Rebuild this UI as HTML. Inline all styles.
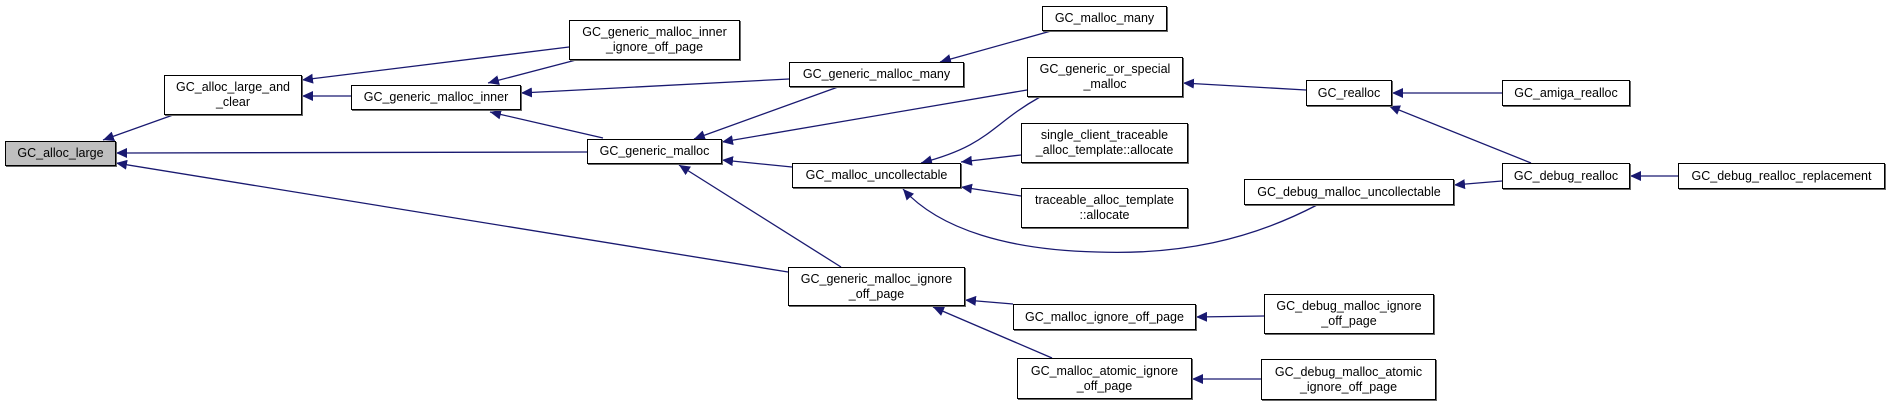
<!DOCTYPE html>
<html><head><meta charset="utf-8"><style>
body{margin:0;background:#fff;width:1891px;height:406px;overflow:hidden;position:relative;font-family:"Liberation Sans",Arial,sans-serif}
.n{position:absolute;box-sizing:border-box;border:1px solid #000;background:#fff;font-size:12.5px;line-height:15px;color:#000;display:flex;align-items:center;justify-content:center;text-align:center;white-space:nowrap;box-shadow:1px 1px 0 #666}
svg{position:absolute;left:0;top:0}
</style></head><body>
<svg width="1891" height="406" viewBox="0 0 1891 406">
<defs><marker id="a" markerUnits="userSpaceOnUse" markerWidth="12" markerHeight="10" refX="11" refY="5" orient="auto"><path d="M0,0 L11,5 L0,10 Z" fill="#191970"/></marker></defs>
<g stroke="#191970" stroke-width="1.3" fill="none" marker-end="url(#a)">
<line x1="173" y1="115" x2="103" y2="140"/>
<line x1="587" y1="152" x2="116" y2="153"/>
<line x1="788" y1="272" x2="116" y2="163"/>
<line x1="569" y1="47" x2="302" y2="80"/>
<line x1="351" y1="96" x2="302" y2="96"/>
<line x1="576" y1="60" x2="488" y2="83"/>
<line x1="789" y1="79" x2="521" y2="93"/>
<line x1="603" y1="138" x2="490" y2="112"/>
<line x1="838" y1="87" x2="694" y2="139"/>
<line x1="1027" y1="90" x2="722" y2="142"/>
<line x1="792" y1="167" x2="722" y2="160"/>
<line x1="841" y1="267" x2="679" y2="165"/>
<line x1="1051" y1="31" x2="940" y2="62"/>
<path d="M1040,97 C990,125 990,145 921,163"/>
<line x1="1021" y1="155" x2="961" y2="162"/>
<line x1="1021" y1="196" x2="961" y2="187"/>
<path d="M1317,205 C1250,240 1180,255 1097,252 C1010,250 940,230 903,189"/>
<line x1="1306" y1="90" x2="1183" y2="83"/>
<line x1="1502" y1="93" x2="1392" y2="93"/>
<line x1="1531" y1="163" x2="1389" y2="106"/>
<line x1="1502" y1="181" x2="1454" y2="185"/>
<line x1="1678" y1="176" x2="1630" y2="176"/>
<line x1="1013" y1="304" x2="965" y2="300"/>
<line x1="1052" y1="358" x2="933" y2="307"/>
<line x1="1264" y1="316" x2="1196" y2="317"/>
<line x1="1261" y1="379" x2="1192" y2="379"/>
</g></svg>
<div class="n" style="left:5px;top:141px;width:111px;height:25px;background:#bfbfbf">GC_alloc_large</div>
<div class="n" style="left:164px;top:75px;width:138px;height:40px">GC_alloc_large_and<br>_clear</div>
<div class="n" style="left:351px;top:85px;width:170px;height:25px">GC_generic_malloc_inner</div>
<div class="n" style="left:569px;top:20px;width:171px;height:40px">GC_generic_malloc_inner<br>_ignore_off_page</div>
<div class="n" style="left:587px;top:139px;width:135px;height:25px">GC_generic_malloc</div>
<div class="n" style="left:789px;top:62px;width:175px;height:25px">GC_generic_malloc_many</div>
<div class="n" style="left:792px;top:163px;width:169px;height:25px">GC_malloc_uncollectable</div>
<div class="n" style="left:788px;top:267px;width:177px;height:39px">GC_generic_malloc_ignore<br>_off_page</div>
<div class="n" style="left:1042px;top:6px;width:125px;height:25px">GC_malloc_many</div>
<div class="n" style="left:1027px;top:57px;width:156px;height:40px">GC_generic_or_special<br>_malloc</div>
<div class="n" style="left:1021px;top:123px;width:167px;height:40px">single_client_traceable<br>_alloc_template::allocate</div>
<div class="n" style="left:1021px;top:188px;width:167px;height:40px">traceable_alloc_template<br>::allocate</div>
<div class="n" style="left:1306px;top:80px;width:86px;height:26px">GC_realloc</div>
<div class="n" style="left:1502px;top:80px;width:128px;height:26px">GC_amiga_realloc</div>
<div class="n" style="left:1502px;top:163px;width:128px;height:26px">GC_debug_realloc</div>
<div class="n" style="left:1678px;top:163px;width:207px;height:26px">GC_debug_realloc_replacement</div>
<div class="n" style="left:1244px;top:179px;width:210px;height:26px">GC_debug_malloc_uncollectable</div>
<div class="n" style="left:1013px;top:304px;width:183px;height:26px">GC_malloc_ignore_off_page</div>
<div class="n" style="left:1264px;top:294px;width:170px;height:40px">GC_debug_malloc_ignore<br>_off_page</div>
<div class="n" style="left:1017px;top:358px;width:175px;height:41px">GC_malloc_atomic_ignore<br>_off_page</div>
<div class="n" style="left:1261px;top:359px;width:175px;height:41px">GC_debug_malloc_atomic<br>_ignore_off_page</div>
</body></html>
